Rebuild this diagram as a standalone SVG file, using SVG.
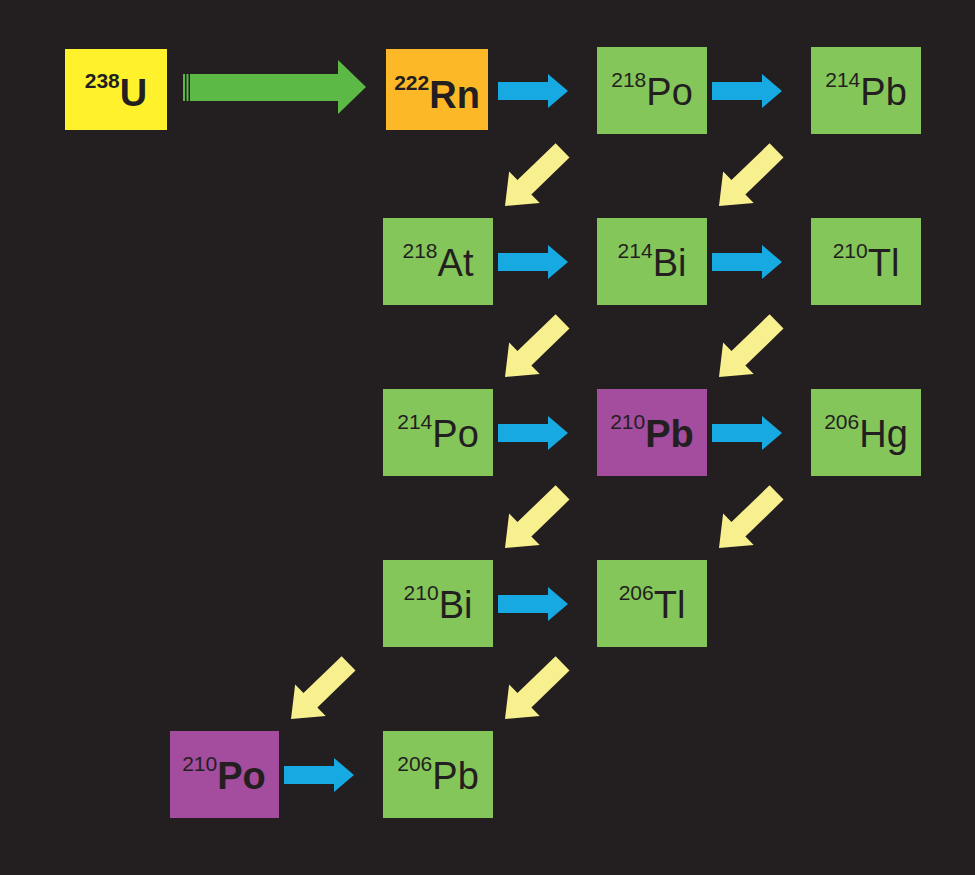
<svg xmlns="http://www.w3.org/2000/svg" width="975" height="875" viewBox="0 0 975 875">
<defs>
<style>
text{font-family:'Liberation Sans',Arial,sans-serif;fill:#231f20;text-anchor:middle}
.m{font-size:38px}.s{font-size:21px}.b{font-weight:bold}
.g{fill:#84c65a}.p{fill:#a44c9e}
.blue{fill:#17a9e1}.yel{fill:#f8f08e}
</style>
<polygon id="ba" points="-70,-9 -20,-9 -20,-17 0,0 -20,17 -20,9 -70,9"/>
<polygon id="ya" points="-80,-10 -27,-10 -27,-22 0,0 -27,22 -27,10 -80,10"/>
</defs>
<rect width="975" height="875" fill="#231f20"/>
<g id="connectors">
<polygon points="190,74 338,74 338,60 366,87 338,114 338,101 190,101" fill="#5cb946"/>
<rect x="183" y="74" width="2" height="27" fill="#5cb946"/><rect x="186.5" y="74" width="2" height="27" fill="#5cb946"/>
<g class="blue">
<use href="#ba" x="568" y="91"/><use href="#ba" x="782" y="91"/>
<use href="#ba" x="568" y="262"/><use href="#ba" x="782" y="262"/>
<use href="#ba" x="568" y="433"/><use href="#ba" x="782" y="433"/>
<use href="#ba" x="568" y="604"/>
<use href="#ba" x="354" y="775"/>
</g>
<g class="yel">
<use href="#ya" transform="translate(505,206) rotate(136)"/>
<use href="#ya" transform="translate(719,206) rotate(136)"/>
<use href="#ya" transform="translate(505,377) rotate(136)"/>
<use href="#ya" transform="translate(719,377) rotate(136)"/>
<use href="#ya" transform="translate(505,548) rotate(136)"/>
<use href="#ya" transform="translate(719,548) rotate(136)"/>
<use href="#ya" transform="translate(291,719) rotate(136)"/>
<use href="#ya" transform="translate(505,719) rotate(136)"/>
</g>
</g>
<g font-family="Liberation Sans, Arial, sans-serif">
<g id="U238"><rect x="65" y="49" width="102" height="81" fill="#fff22d"/><text x="116" y="106"><tspan class="s b" dy="-18">238</tspan><tspan class="m b" dy="18">U</tspan></text></g>
<g id="Rn222"><rect x="386" y="49" width="102" height="81" fill="#fdb827"/><text x="437" y="108"><tspan class="s b" dy="-18">222</tspan><tspan class="m b" dy="18">Rn</tspan></text></g>
<g id="Po218"><rect x="597" y="47" width="110" height="87" class="g"/><text x="652" y="105"><tspan class="s" dy="-18">218</tspan><tspan class="m" dy="18">Po</tspan></text></g>
<g id="Pb214"><rect x="811" y="47" width="110" height="87" class="g"/><text x="866" y="105"><tspan class="s" dy="-18">214</tspan><tspan class="m" dy="18">Pb</tspan></text></g>
<g id="At218"><rect x="383" y="218" width="110" height="87" class="g"/><text x="438" y="276"><tspan class="s" dy="-18">218</tspan><tspan class="m" dy="18">At</tspan></text></g>
<g id="Bi214"><rect x="597" y="218" width="110" height="87" class="g"/><text x="652" y="276"><tspan class="s" dy="-18">214</tspan><tspan class="m" dy="18">Bi</tspan></text></g>
<g id="Tl210"><rect x="811" y="218" width="110" height="87" class="g"/><text x="866" y="276"><tspan class="s" dy="-18">210</tspan><tspan class="m" dy="18">Tl</tspan></text></g>
<g id="Po214"><rect x="383" y="389" width="110" height="87" class="g"/><text x="438" y="447"><tspan class="s" dy="-18">214</tspan><tspan class="m" dy="18">Po</tspan></text></g>
<g id="Pb210"><rect x="597" y="389" width="110" height="87" class="p"/><text x="652" y="447"><tspan class="s" dy="-18">210</tspan><tspan class="m b" dy="18">Pb</tspan></text></g>
<g id="Hg206"><rect x="811" y="389" width="110" height="87" class="g"/><text x="866" y="447"><tspan class="s" dy="-18">206</tspan><tspan class="m" dy="18">Hg</tspan></text></g>
<g id="Bi210"><rect x="383" y="560" width="110" height="87" class="g"/><text x="438" y="618"><tspan class="s" dy="-18">210</tspan><tspan class="m" dy="18">Bi</tspan></text></g>
<g id="Tl206"><rect x="597" y="560" width="110" height="87" class="g"/><text x="652" y="618"><tspan class="s" dy="-18">206</tspan><tspan class="m" dy="18">Tl</tspan></text></g>
<g id="Po210"><rect x="170" y="731" width="109" height="87" class="p"/><text x="224" y="789"><tspan class="s" dy="-18">210</tspan><tspan class="m b" dy="18">Po</tspan></text></g>
<g id="Pb206"><rect x="383" y="731" width="110" height="87" class="g"/><text x="438" y="789"><tspan class="s" dy="-18">206</tspan><tspan class="m" dy="18">Pb</tspan></text></g>
</g>
</svg>
